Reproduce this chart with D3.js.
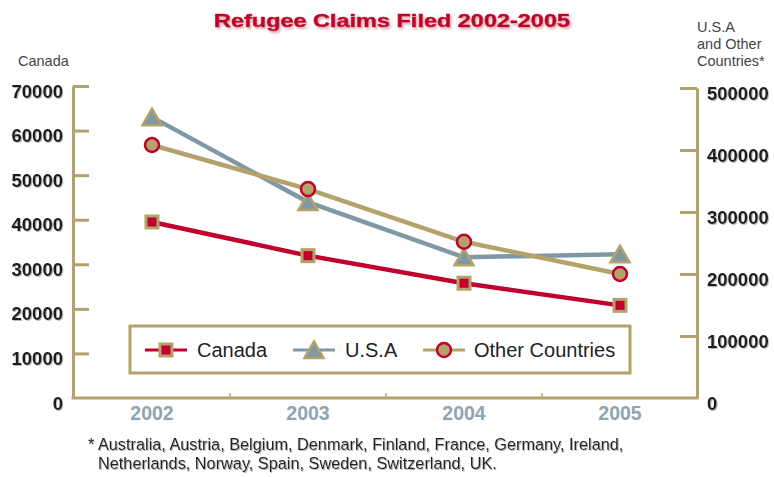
<!DOCTYPE html>
<html>
<head>
<meta charset="utf-8">
<script src="https://cdn.jsdelivr.net/npm/d3@7"></script>
<style>
  html, body { margin: 0; padding: 0; background: #ffffff; }
  svg { display: block; }
  text { font-family: "Liberation Sans", Arial, sans-serif; }
</style>
</head>
<body>
<script>
// Refugee claims filed, 2002-2005
const years = ["2002", "2003", "2004", "2005"];
const canada = [39498, 31937, 25750, 20786];             // left axis
const usa = [453000, 316000, 227000, 232000];            // right axis
const otherCountries = [408000, 337000, 252000, 200000]; // right axis
const leftTicks = [0, 10000, 20000, 30000, 40000, 50000, 60000, 70000];
const rightTicks = [0, 100000, 200000, 300000, 400000, 500000];
const footnote = [
  "* Australia, Austria, Belgium, Denmark, Finland, France, Germany, Ireland,",
  "Netherlands, Norway, Spain, Sweden, Switzerland, UK."
];

const W = 774, H = 477;
const RED = "#c1002d", TAN = "#b3a36b", BLUE = "#7f98a5", YEAR = "#8fa4b0";

const svg = d3.select("body").append("svg").attr("width", W).attr("height", H);

const defs = svg.append("defs");
defs.append("filter").attr("id", "titleShadow")
  .attr("x", "-5%").attr("y", "-30%").attr("width", "110%").attr("height", "170%")
  .append("feDropShadow").attr("dx", 1.5).attr("dy", 2).attr("stdDeviation", 0.8)
  .attr("flood-color", "#e2a9b3").attr("flood-opacity", 1);
defs.append("filter").attr("id", "softShadow")
  .attr("x", "-5%").attr("y", "-20%").attr("width", "110%").attr("height", "150%")
  .append("feDropShadow").attr("dx", 1).attr("dy", 1).attr("stdDeviation", 0.6)
  .attr("flood-color", "#999").attr("flood-opacity", 0.7);

const axisLeftX = 73, axisRightX = 697, baseY = 398;

const x = d3.scalePoint().domain(years).range([152, 620]);
const yL = d3.scaleLinear().domain([0, 70000]).range([baseY, 86]);
const yR = d3.scaleLinear().domain([0, 500000]).range([baseY, 88]);

// Title
svg.append("text")
  .attr("x", 392).attr("y", 27)
  .attr("text-anchor", "middle")
  .attr("font-size", 19).attr("font-weight", "bold")
  .attr("fill", RED).attr("stroke", RED).attr("stroke-width", 0.6)
  .attr("textLength", 356).attr("lengthAdjust", "spacingAndGlyphs")
  .attr("filter", "url(#titleShadow)")
  .text("Refugee Claims Filed 2002-2005");

// Axis titles
svg.append("text").attr("x", 18).attr("y", 66)
  .attr("font-size", 14.5).attr("fill", "#444").text("Canada");
const rt = svg.append("text").attr("x", 697).attr("y", 32)
  .attr("font-size", 14.5).attr("fill", "#444");
["U.S.A", "and Other", "Countries*"].forEach((t, i) =>
  rt.append("tspan").attr("x", 697).attr("dy", i === 0 ? 0 : 17).text(t));

// Left axis (Canada)
const gL = svg.append("g").attr("transform", `translate(${axisLeftX},0)`)
  .call(d3.axisLeft(yL).tickValues(leftTicks).tickFormat(d3.format("d"))
    .tickSize(-16).tickSizeOuter(0).tickPadding(10));
// Right axis (U.S.A and other countries)
const gR = svg.append("g").attr("transform", `translate(${axisRightX},0)`)
  .call(d3.axisRight(yR).tickValues(rightTicks).tickFormat(d3.format("d"))
    .tickSize(-17).tickSizeOuter(0).tickPadding(10));

[gL, gR].forEach(g => {
  g.select(".domain").attr("stroke", TAN).attr("stroke-width", 3);
  g.selectAll(".tick line").attr("stroke", TAN).attr("stroke-width", 3);
  g.selectAll(".tick text")
    .attr("font-family", "'Liberation Sans', Arial, sans-serif")
    .attr("font-size", 18.5).attr("font-weight", "bold").attr("fill", "#1a1a1a")
    .attr("dy", "0.6em")
    .attr("filter", "url(#softShadow)");
});
gL.select(".tick:first-of-type line").remove();
gR.select(".tick:first-of-type line").remove();

// Category axis
svg.append("line")
  .attr("x1", axisLeftX - 1.5).attr("x2", axisRightX + 1.5)
  .attr("y1", baseY).attr("y2", baseY)
  .attr("stroke", TAN).attr("stroke-width", 3);
const mids = d3.pairs(years).map(([a, b]) => (x(a) + x(b)) / 2);
svg.selectAll("line.minor").data(mids).join("line").attr("class", "minor")
  .attr("x1", d => d).attr("x2", d => d)
  .attr("y1", baseY).attr("y2", baseY - 5)
  .attr("stroke", TAN).attr("stroke-width", 1.5);
svg.selectAll("text.year").data(years).join("text").attr("class", "year")
  .attr("x", d => x(d)).attr("y", 415)
  .attr("text-anchor", "middle").attr("dominant-baseline", "middle")
  .attr("font-size", 19.5).attr("font-weight", "bold").attr("fill", YEAR)
  .text(d => d);

// Marker shapes
const tri = "M0,-8.5L9.5,8L-9.5,8Z";
function drawMarker(g, type) {
  if (type === "square") {
    g.append("rect").attr("x", -6).attr("y", -6).attr("width", 12).attr("height", 12)
      .attr("fill", RED).attr("stroke", TAN).attr("stroke-width", 3);
  } else if (type === "triangle") {
    g.append("path").attr("d", tri)
      .attr("fill", BLUE).attr("stroke", TAN).attr("stroke-width", 2.5)
      .attr("stroke-linejoin", "miter");
  } else {
    g.append("circle").attr("r", 7)
      .attr("fill", TAN).attr("stroke", RED).attr("stroke-width", 2.5);
  }
}

const series = [
  { name: "U.S.A", values: usa, y: yR, color: BLUE, marker: "triangle" },
  { name: "Other Countries", values: otherCountries, y: yR, color: TAN, marker: "circle" },
  { name: "Canada", values: canada, y: yL, color: RED, marker: "square" }
];

const line = (s) => d3.line().x((d, i) => x(years[i])).y(d => s.y(d));
series.forEach(s => {
  svg.append("path").datum(s.values)
    .attr("d", line(s)).attr("fill", "none")
    .attr("stroke", s.color).attr("stroke-width", 4.5);
});
[series[2], series[0], series[1]].forEach(s => {
  s.values.forEach((v, i) => {
    const g = svg.append("g").attr("transform", `translate(${x(years[i])},${s.y(v)})`);
    drawMarker(g, s.marker);
  });
});

// Legend
const lg = svg.append("g");
lg.append("rect").attr("x", 130).attr("y", 326).attr("width", 500).attr("height", 47)
  .attr("fill", "#fff").attr("stroke", TAN).attr("stroke-width", 3);
const legendItems = [
  { s: series[2], lx: 145, tx: 197 },
  { s: series[0], lx: 293, tx: 345 },
  { s: series[1], lx: 423, tx: 474 }
];
legendItems.forEach(({ s, lx, tx }) => {
  const cy = 350;
  lg.append("line").attr("x1", lx).attr("x2", lx + 42).attr("y1", cy).attr("y2", cy)
    .attr("stroke", s.color).attr("stroke-width", 3);
  drawMarker(lg.append("g").attr("transform", `translate(${lx + 21},${cy})`), s.marker);
  lg.append("text").attr("x", tx).attr("y", cy).attr("dominant-baseline", "central")
    .attr("font-size", 20).attr("fill", "#222").text(s.name);
});

// Footnote
footnote.forEach((t, i) => {
  svg.append("text").attr("x", i === 0 ? 88 : 98).attr("y", 450 + i * 19)
    .attr("font-size", 16.3).attr("fill", "#222")
    .attr("filter", "url(#softShadow)")
    .text(t);
});
</script>
</body>
</html>
